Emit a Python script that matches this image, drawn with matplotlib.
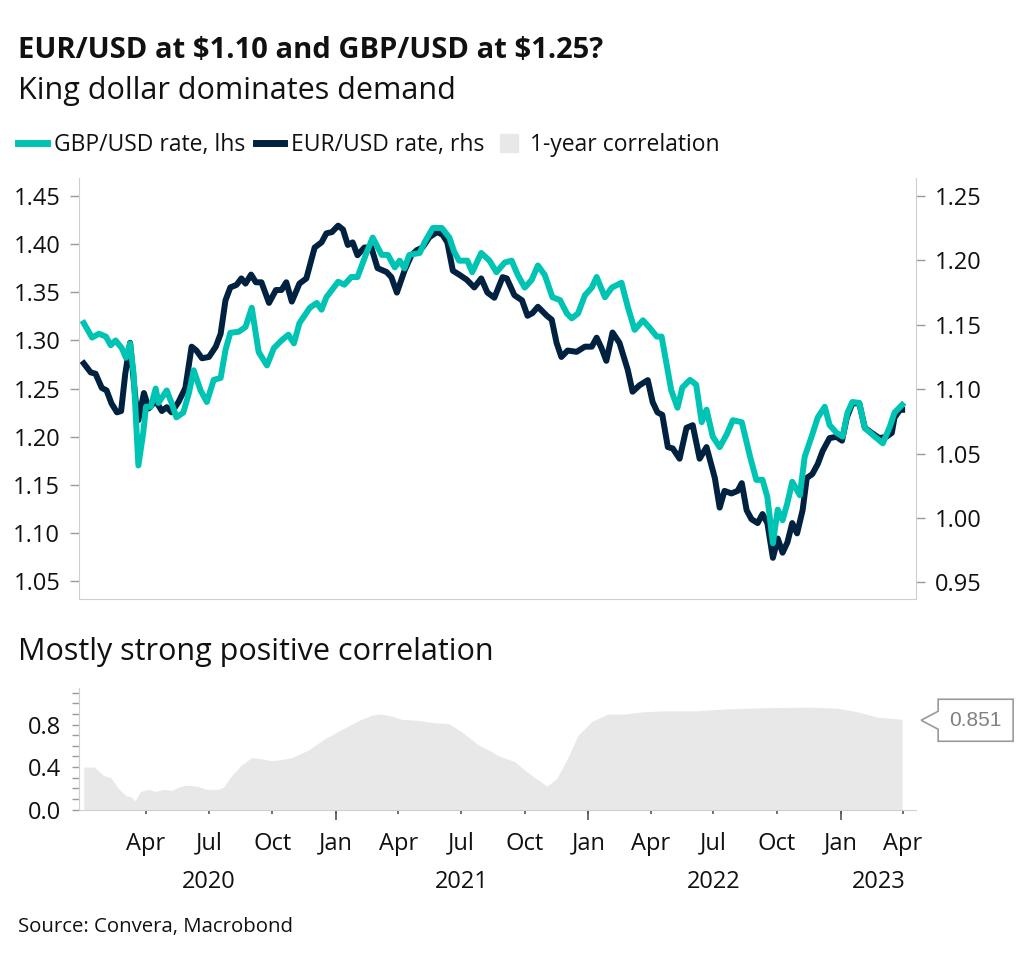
import matplotlib
matplotlib.use("Agg")
import matplotlib.pyplot as plt
import matplotlib.dates as mdates
import matplotlib.transforms as mtransforms
from matplotlib.lines import Line2D
from matplotlib.patches import Polygon
import pandas as pd

plt.rcParams['font.family'] = ['Open Sans', 'DejaVu Sans']

# GBP/USD, left axis
gbp_dates = ["2020-01-02", "2020-01-14", "2020-01-24", "2020-02-03", "2020-02-10", "2020-02-17",
             "2020-02-26", "2020-03-03", "2020-03-09", "2020-03-14", "2020-03-21", "2020-03-28",
             "2020-04-01", "2020-04-08", "2020-04-15", "2020-04-19", "2020-05-01", "2020-05-08",
             "2020-05-15", "2020-05-25", "2020-06-02", "2020-06-09", "2020-06-19", "2020-06-28",
             "2020-07-08", "2020-07-18", "2020-07-25", "2020-08-01", "2020-08-13", "2020-08-23",
             "2020-09-01", "2020-09-11", "2020-09-23", "2020-10-03", "2020-10-14", "2020-10-24",
             "2020-11-01", "2020-11-09", "2020-11-24", "2020-12-04", "2020-12-11", "2020-12-18",
             "2021-01-04", "2021-01-13", "2021-01-23", "2021-02-01", "2021-02-14", "2021-02-23",
             "2021-03-08", "2021-03-17", "2021-03-27", "2021-04-03", "2021-04-10", "2021-04-17",
             "2021-05-02", "2021-05-09", "2021-05-21", "2021-06-03", "2021-06-14", "2021-06-21",
             "2021-06-28", "2021-07-10", "2021-07-17", "2021-07-30", "2021-08-11", "2021-08-21",
             "2021-09-02", "2021-09-12", "2021-09-21", "2021-10-01", "2021-10-11", "2021-10-20",
             "2021-10-30", "2021-11-10", "2021-11-21", "2021-12-01", "2021-12-08", "2021-12-17",
             "2021-12-27", "2022-01-06", "2022-01-13", "2022-01-25", "2022-02-04", "2022-02-18",
             "2022-02-27", "2022-03-09", "2022-03-21", "2022-03-31", "2022-04-10", "2022-04-17",
             "2022-04-24", "2022-05-01", "2022-05-10", "2022-05-17", "2022-05-28", "2022-06-06",
             "2022-06-14", "2022-06-21", "2022-06-30", "2022-07-10", "2022-07-20", "2022-07-29",
             "2022-08-11", "2022-08-23", "2022-09-01", "2022-09-10", "2022-09-17", "2022-09-25",
             "2022-10-02", "2022-10-09", "2022-10-16", "2022-10-23", "2022-11-03", "2022-11-10",
             "2022-11-20", "2022-11-29", "2022-12-09", "2022-12-16", "2022-12-26", "2023-01-04",
             "2023-01-11", "2023-01-18", "2023-01-28", "2023-02-05", "2023-02-16", "2023-03-03",
             "2023-03-13", "2023-03-20", "2023-03-31"]
gbp_rate = [1.318, 1.303, 1.307, 1.304, 1.295, 1.300,
            1.292, 1.282, 1.297, 1.266, 1.170, 1.204,
            1.231, 1.231, 1.250, 1.235, 1.248, 1.235,
            1.220, 1.225, 1.245, 1.269, 1.248, 1.236,
            1.259, 1.261, 1.290, 1.308, 1.309, 1.314,
            1.334, 1.288, 1.274, 1.292, 1.300, 1.306,
            1.297, 1.318, 1.334, 1.339, 1.332, 1.345,
            1.361, 1.358, 1.366, 1.366, 1.391, 1.407,
            1.389, 1.389, 1.376, 1.383, 1.375, 1.389,
            1.391, 1.402, 1.417, 1.417, 1.407, 1.392,
            1.383, 1.383, 1.371, 1.391, 1.383, 1.371,
            1.381, 1.383, 1.368, 1.355, 1.363, 1.378,
            1.368, 1.345, 1.342, 1.328, 1.323, 1.328,
            1.347, 1.355, 1.366, 1.345, 1.355, 1.360,
            1.335, 1.311, 1.321, 1.313, 1.304, 1.304,
            1.276, 1.248, 1.230, 1.251, 1.259, 1.254,
            1.215, 1.228, 1.200, 1.189, 1.202, 1.217,
            1.215, 1.179, 1.155, 1.155, 1.137, 1.089,
            1.124, 1.113, 1.131, 1.153, 1.139, 1.179,
            1.200, 1.220, 1.231, 1.212, 1.204, 1.200,
            1.225, 1.236, 1.235, 1.209, 1.202, 1.193,
            1.210, 1.225, 1.233]

# EUR/USD, right axis
eur_dates = ["2020-01-02", "2020-01-12", "2020-01-19", "2020-01-28", "2020-02-04", "2020-02-11",
             "2020-02-19", "2020-02-25", "2020-03-02", "2020-03-09", "2020-03-17", "2020-03-21",
             "2020-03-29", "2020-04-05", "2020-04-15", "2020-04-24", "2020-05-01", "2020-05-08",
             "2020-05-18", "2020-05-28", "2020-06-06", "2020-06-13", "2020-06-21", "2020-07-01",
             "2020-07-11", "2020-07-18", "2020-07-25", "2020-08-01", "2020-08-10", "2020-08-17",
             "2020-08-23", "2020-08-31", "2020-09-07", "2020-09-15", "2020-09-26", "2020-10-06",
             "2020-10-14", "2020-10-21", "2020-10-29", "2020-11-09", "2020-11-19", "2020-12-01",
             "2020-12-11", "2020-12-18", "2020-12-26", "2021-01-04", "2021-01-11", "2021-01-18",
             "2021-01-25", "2021-02-01", "2021-02-11", "2021-02-21", "2021-03-02", "2021-03-15",
             "2021-03-22", "2021-03-30", "2021-04-10", "2021-04-20", "2021-04-28", "2021-05-06",
             "2021-05-16", "2021-05-27", "2021-06-04", "2021-06-11", "2021-06-19", "2021-06-28",
             "2021-07-09", "2021-07-20", "2021-07-30", "2021-08-08", "2021-08-18", "2021-08-30",
             "2021-09-05", "2021-09-16", "2021-09-27", "2021-10-05", "2021-10-12", "2021-10-20",
             "2021-11-02", "2021-11-09", "2021-11-16", "2021-11-23", "2021-12-02", "2021-12-15",
             "2021-12-27", "2022-01-06", "2022-01-13", "2022-01-20", "2022-01-27", "2022-02-05",
             "2022-02-15", "2022-02-27", "2022-03-06", "2022-03-16", "2022-03-28", "2022-04-04",
             "2022-04-11", "2022-04-18", "2022-04-26", "2022-05-03", "2022-05-13", "2022-05-23",
             "2022-06-01", "2022-06-11", "2022-06-21", "2022-07-03", "2022-07-10", "2022-07-17",
             "2022-07-27", "2022-08-05", "2022-08-11", "2022-08-18", "2022-08-25", "2022-09-03",
             "2022-09-10", "2022-09-17", "2022-09-25", "2022-10-02", "2022-10-09", "2022-10-16",
             "2022-10-23", "2022-10-30", "2022-11-07", "2022-11-13", "2022-11-21", "2022-11-29",
             "2022-12-06", "2022-12-16", "2022-12-26", "2023-01-03", "2023-01-10", "2023-01-18",
             "2023-01-28", "2023-02-05", "2023-02-15", "2023-02-26", "2023-03-08", "2023-03-16",
             "2023-03-20", "2023-03-28", "2023-03-31"]
eur_rate = [1.120, 1.113, 1.112, 1.101, 1.099, 1.089,
            1.082, 1.083, 1.112, 1.136, 1.091, 1.076,
            1.097, 1.085, 1.091, 1.083, 1.086, 1.082,
            1.090, 1.101, 1.133, 1.130, 1.124, 1.125,
            1.133, 1.143, 1.169, 1.179, 1.181, 1.186,
            1.182, 1.189, 1.183, 1.183, 1.167, 1.177,
            1.177, 1.183, 1.168, 1.182, 1.186, 1.210,
            1.214, 1.221, 1.222, 1.227, 1.224, 1.212,
            1.214, 1.204, 1.210, 1.210, 1.194, 1.191,
            1.187, 1.175, 1.192, 1.204, 1.208, 1.210,
            1.218, 1.222, 1.220, 1.214, 1.192, 1.189,
            1.185, 1.179, 1.186, 1.175, 1.171, 1.187,
            1.186, 1.173, 1.169, 1.157, 1.159, 1.164,
            1.157, 1.154, 1.136, 1.125, 1.130, 1.129,
            1.133, 1.133, 1.140, 1.132, 1.122, 1.144,
            1.136, 1.115, 1.098, 1.103, 1.107, 1.090,
            1.082, 1.080, 1.055, 1.054, 1.046, 1.070,
            1.072, 1.046, 1.055, 1.031, 1.008, 1.021,
            1.019, 1.021, 1.027, 1.006, 0.999, 0.996,
            1.003, 0.996, 0.969, 0.984, 0.973, 0.981,
            0.996, 0.988, 1.006, 1.031, 1.034, 1.042,
            1.052, 1.062, 1.063, 1.060, 1.078, 1.089,
            1.089, 1.070, 1.066, 1.062, 1.063, 1.066,
            1.078, 1.084, 1.084]

# 1-year rolling correlation
corr_dates = ["2020-01-02", "2020-01-17", "2020-01-31", "2020-02-10", "2020-02-21", "2020-03-03",
              "2020-03-10", "2020-03-16", "2020-03-24", "2020-04-05", "2020-04-15", "2020-04-26",
              "2020-05-08", "2020-05-18", "2020-05-28", "2020-06-14", "2020-06-28", "2020-07-15",
              "2020-07-22", "2020-08-03", "2020-08-17", "2020-09-01", "2020-09-14", "2020-09-30",
              "2020-10-14", "2020-10-29", "2020-11-22", "2020-12-14", "2021-01-05", "2021-02-03",
              "2021-02-22", "2021-03-07", "2021-03-23", "2021-04-06", "2021-05-01", "2021-05-20",
              "2021-06-13", "2021-07-02", "2021-07-26", "2021-08-10", "2021-08-23", "2021-09-17",
              "2021-10-01", "2021-10-18", "2021-11-02", "2021-11-16", "2021-12-01", "2021-12-17",
              "2022-01-06", "2022-01-29", "2022-02-23", "2022-03-19", "2022-04-17", "2022-06-04",
              "2022-07-22", "2022-09-09", "2022-11-20", "2022-12-28", "2023-01-26", "2023-02-24",
              "2023-03-31"]
corr_values = [0.40, 0.40, 0.32, 0.30, 0.20, 0.13,
               0.12, 0.08, 0.17, 0.19, 0.17, 0.19,
               0.18, 0.21, 0.23, 0.22, 0.19, 0.19,
               0.21, 0.32, 0.42, 0.49, 0.48, 0.46,
               0.47, 0.49, 0.56, 0.66, 0.74, 0.84,
               0.89, 0.90, 0.88, 0.85, 0.84, 0.82,
               0.81, 0.73, 0.61, 0.56, 0.51, 0.45,
               0.37, 0.29, 0.22, 0.29, 0.47, 0.70,
               0.83, 0.90, 0.90, 0.92, 0.93, 0.93,
               0.95, 0.96, 0.965, 0.955, 0.92, 0.87,
               0.851]

gbp_x = pd.to_datetime(gbp_dates)
eur_x = pd.to_datetime(eur_dates)
corr_x = pd.to_datetime(corr_dates)

TEAL = "#00c4b3"
NAVY = "#00213f"
FILL = "#e8e8e8"
SPINE = "#cfcfcf"
TICK = "#9a9a9a"
TXT = "#111111"

x_start = pd.Timestamp("2019-12-26")
x_end = pd.Timestamp("2023-04-20")

fig = plt.figure(figsize=(10.24, 9.58), dpi=100)

# top panel: two exchange rates
ax = fig.add_axes([0.0771, 0.3747, 0.8174, 0.4395])
ax2 = ax.twinx()
ax2.plot(eur_x, eur_rate, color=NAVY, lw=4.3, solid_joinstyle="round")
ax.plot(gbp_x, gbp_rate, color=TEAL, lw=4.3, solid_joinstyle="round")
ax.set_zorder(ax2.get_zorder() + 1)
ax.patch.set_visible(False)

ax.set_xlim(x_start, x_end)
ax.set_ylim(1.031, 1.469)
ax2.set_ylim(0.937, 1.264)
ax.set_yticks([1.05, 1.10, 1.15, 1.20, 1.25, 1.30, 1.35, 1.40, 1.45])
ax2.set_yticks([0.95, 1.00, 1.05, 1.10, 1.15, 1.20, 1.25])
ax.yaxis.set_major_formatter(matplotlib.ticker.FormatStrFormatter("%.2f"))
ax2.yaxis.set_major_formatter(matplotlib.ticker.FormatStrFormatter("%.2f"))
ax.tick_params(axis="x", bottom=False, labelbottom=False)
for a in (ax, ax2):
    a.tick_params(axis="y", length=6.5, width=1, color=TICK, pad=7, labelsize=17, labelcolor=TXT)
    for s in a.spines.values():
        s.set_color(SPINE)
    a.spines["top"].set_visible(False)
ax.spines["right"].set_visible(False)
ax2.spines["left"].set_visible(False)
ax2.spines["bottom"].set_visible(False)

# bottom panel: correlation
axc = fig.add_axes([0.0771, 0.155, 0.8174, 0.1273])
axc.fill_between(corr_x, 0, corr_values, color=FILL, lw=0)
axc.set_xlim(x_start, x_end)
axc.set_ylim(0, 1.15)
axc.set_yticks([0.0, 0.4, 0.8])
axc.set_yticks([0.1, 0.2, 0.3, 0.5, 0.6, 0.7, 0.9, 1.0, 1.1], minor=True)
axc.yaxis.set_major_formatter(matplotlib.ticker.FormatStrFormatter("%.1f"))
axc.tick_params(axis="y", which="both", length=5, width=1, color=TICK, pad=8,
                labelsize=17, labelcolor=TXT)
for s in ("top", "right"):
    axc.spines[s].set_visible(False)
for s in ("left", "bottom"):
    axc.spines[s].set_color(SPINE)

quarters = pd.date_range("2020-04-01", "2023-04-01", freq="QS")
januaries = pd.date_range("2021-01-01", "2023-01-01", freq="YS")
axc.set_xticks(quarters)
axc.xaxis.set_major_formatter(mdates.DateFormatter("%b"))
axc.set_xticks(januaries, minor=True)
axc.xaxis.remove_overlapping_locs = False
axc.tick_params(axis="x", which="major", length=3, width=1.2, color="#555555", pad=13,
                labelsize=17, labelcolor=TXT)
axc.tick_params(axis="x", which="minor", length=7, width=1.2, color="#555555", labelbottom=False)

year_trans = axc.get_xaxis_transform() + mtransforms.ScaledTranslation(0, -0.72, fig.dpi_scale_trans)
for yr in [2020, 2021, 2022, 2023]:
    lo = max(pd.Timestamp(f"{yr}-01-01"), x_start)
    hi = min(pd.Timestamp(f"{yr}-12-31"), x_end)
    mid = lo + (hi - lo) / 2
    axc.text(mid, 0, str(yr), transform=year_trans, ha="center", va="center",
             fontsize=17, color=TXT)

# call-out with the last correlation value
anchor = mtransforms.ScaledTranslation(mdates.date2num(corr_x[-1]), corr_values[-1], axc.transData)
box_trans = fig.dpi_scale_trans + anchor
callout = Polygon([(0.36, 0.20), (1.11, 0.20), (1.11, -0.22), (0.36, -0.22), (0.36, -0.10),
                   (0.19, -0.01), (0.36, 0.08)], closed=True, transform=box_trans,
                  facecolor="white", edgecolor="#9a9a9a", lw=1.2, clip_on=False)
axc.add_artist(callout)
axc.text(0.735, -0.01, f"{corr_values[-1]:.3f}", transform=box_trans, ha="center", va="center",
         fontsize=15, color="#808080", family=["Liberation Sans", "DejaVu Sans"], clip_on=False)

# titles, legend, source
fig.text(0.0176, 0.939, r"EUR/USD at \$1.10 and GBP/USD at \$1.25?", fontsize=21,
         fontweight="bold", color=TXT, va="baseline")
fig.text(0.0176, 0.897, "King dollar dominates demand", fontsize=22, color=TXT, va="baseline")
fig.text(0.0176, 0.311, "Mostly strong positive correlation", fontsize=22, color=TXT, va="baseline")
fig.text(0.0176, 0.027, "Source: Convera, Macrobond", fontsize=14.7, color=TXT, va="baseline")

handles = [Line2D([], [], color=TEAL, lw=5),
           Line2D([], [], color=NAVY, lw=5),
           Line2D([], [], color=FILL, marker="s", ls="none", markersize=13)]
labels = ["GBP/USD rate, lhs", "EUR/USD rate, rhs", "1-year correlation"]
fig.legend(handles, labels, loc="center left", bbox_to_anchor=(0.018, 0.849), ncol=3,
           frameon=False, fontsize=16.5, handlelength=1.25, handletextpad=0.3,
           columnspacing=0.45, borderaxespad=0, borderpad=0, labelcolor=TXT)

fig.savefig("out.png", dpi=100)
